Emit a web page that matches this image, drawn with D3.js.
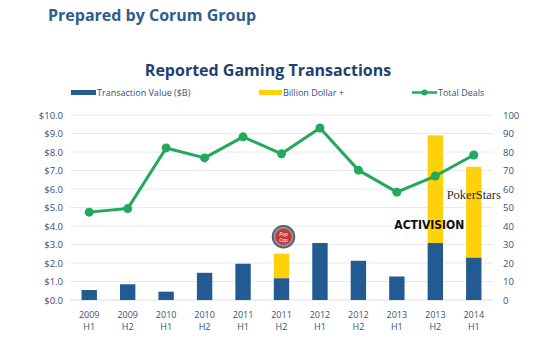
<!DOCTYPE html>
<html>
<head>
<meta charset="utf-8">
<script src="https://cdn.jsdelivr.net/npm/d3@7"></script>
<style>
  body { margin: 0; background: #fff; }
  text { font-family: "Open Sans", "Noto Sans", sans-serif; }
</style>
</head>
<body>
<div id="drawing"></div>
<script>
var width = 558;
var height = 354;
var margin = {top: 115, right: 65, bottom: 54, left: 70};

var periods = ["2009 H1", "2009 H2", "2010 H1", "2010 H2", "2011 H1", "2011 H2",
               "2012 H1", "2012 H2", "2013 H1", "2013 H2", "2014 H1"];
var txValue = [0.54, 0.85, 0.45, 1.47, 1.96, 1.18, 3.08, 2.12, 1.27, 3.08, 2.3];
var billionPlus = [0, 0, 0, 0, 0, 1.32, 0, 0, 0, 5.82, 4.9];
var totalDeals = [47.5, 49.4, 82.2, 76.8, 88.2, 79, 93, 70.2, 58.3, 67, 78.4];
var leftTicks = [0, 1, 2, 3, 4, 5, 6, 7, 8, 9, 10];
var rightTicks = [0, 10, 20, 30, 40, 50, 60, 70, 80, 90, 100];

var blue = "#235a92";
var yellow = "#ffd10a";
var green = "#22a95b";
var labelColor = "#34507c";

var svg = d3.select("#drawing").append("svg")
  .attr("width", width)
  .attr("height", height);

svg.append("text")
  .attr("x", 48).attr("y", 21)
  .style("font-size", "16px").style("font-weight", "bold")
  .style("fill", "#2e5c8e")
  .text("Prepared by Corum Group");

svg.append("text")
  .attr("x", 268).attr("y", 76)
  .attr("text-anchor", "middle")
  .style("font-size", "16px").style("font-weight", "bold")
  .style("fill", "#1f3f6e")
  .text("Reported Gaming Transactions");

var innerW = width - margin.left - margin.right;
var innerH = height - margin.top - margin.bottom;

var g = svg.append("g")
  .attr("transform", `translate(${margin.left}, ${margin.top})`);

var x = d3.scaleBand().domain(periods).range([0, innerW]).paddingInner(0.6).paddingOuter(0.3);
var yL = d3.scaleLinear().domain([0, 10]).range([innerH, 0]);
var yR = d3.scaleLinear().domain([0, 100]).range([innerH, 0]);

// gridlines
g.selectAll(".grid").data(leftTicks).enter().append("line")
  .attr("x1", 0).attr("x2", innerW)
  .attr("y1", d => yL(d)).attr("y2", d => yL(d))
  .style("stroke", d => d === 0 ? "#d6dde6" : "#e6ebf1")
  .style("stroke-width", 1);

// left axis
var leftAxis = g.append("g")
  .call(d3.axisLeft(yL).tickValues(leftTicks).tickSize(0).tickPadding(7)
    .tickFormat(d => "$" + d3.format(".1f")(d)));
leftAxis.select(".domain").remove();
leftAxis.selectAll("text").style("font-size", "9.5px").style("fill", labelColor);

// right axis
var rightAxis = g.append("g")
  .attr("transform", `translate(${innerW}, 0)`)
  .call(d3.axisRight(yR).tickValues(rightTicks).tickSize(0).tickPadding(10));
rightAxis.select(".domain").remove();
rightAxis.selectAll("text").style("font-size", "9.5px").style("fill", labelColor);

// bottom axis, two-line labels
var bottomAxis = g.append("g")
  .attr("transform", `translate(0, ${innerH})`)
  .call(d3.axisBottom(x).tickSize(0).tickPadding(9).tickFormat(""));
bottomAxis.select(".domain").remove();
bottomAxis.selectAll(".tick").each(function(d) {
  var parts = d.split(" ");
  var t = d3.select(this).select("text")
    .style("font-size", "9px").style("fill", labelColor);
  t.append("tspan").attr("x", 0).attr("dy", "0.95em").text(parts[0]);
  t.append("tspan").attr("x", 0).attr("dy", "1.4em").text(parts[1]);
});

// bars
g.selectAll(".bar").data(periods).enter().append("rect")
  .attr("x", d => x(d))
  .attr("width", x.bandwidth())
  .attr("y", (d, i) => yL(txValue[i]))
  .attr("height", (d, i) => innerH - yL(txValue[i]))
  .style("fill", blue);

g.selectAll(".bar2").data(periods.filter((d, i) => billionPlus[i] > 0)).enter().append("rect")
  .attr("x", d => x(d))
  .attr("width", x.bandwidth())
  .attr("y", d => { var i = periods.indexOf(d); return yL(txValue[i] + billionPlus[i]); })
  .attr("height", d => { var i = periods.indexOf(d); return yL(txValue[i]) - yL(txValue[i] + billionPlus[i]); })
  .style("fill", yellow);

// line
var line = d3.line()
  .x((d, i) => x(periods[i]) + x.bandwidth() / 2)
  .y(d => yR(d));

g.append("path")
  .attr("d", line(totalDeals))
  .style("fill", "none")
  .style("stroke", green)
  .style("stroke-width", 3)
  .style("stroke-linejoin", "round");

g.selectAll(".dot").data(totalDeals).enter().append("circle")
  .attr("cx", (d, i) => x(periods[i]) + x.bandwidth() / 2)
  .attr("cy", d => yR(d))
  .attr("r", 4.5)
  .style("fill", green);

// logos as text / shapes
var pop = g.append("g")
  .attr("transform", `translate(${x("2011 H2") + x.bandwidth() / 2 + 2}, ${yL(2.5) - 17})`);
pop.append("circle").attr("r", 11).style("fill", "#8a8f96").style("stroke", "#55595f").style("stroke-width", 1.5);
pop.append("circle").attr("r", 8).style("fill", "#c8353a");
pop.append("text").attr("text-anchor", "middle").attr("y", -1)
  .style("font-size", "5px").style("font-style", "italic").style("fill", "#fff").text("Pop");
pop.append("text").attr("text-anchor", "middle").attr("y", 5)
  .style("font-size", "5px").style("font-style", "italic").style("fill", "#fff").text("Cap");

g.append("text")
  .attr("x", x("2013 H2") + x.bandwidth() / 2 - 6)
  .attr("y", yL(3.85))
  .attr("text-anchor", "middle")
  .style("font-family", "'Liberation Sans Narrow', 'DejaVu Sans Condensed', sans-serif")
  .style("font-size", "12px").style("font-weight", "bold")
  .style("fill", "#111")
  .text("ACTIVISION");

g.append("text")
  .attr("x", x("2014 H1") + x.bandwidth() / 2)
  .attr("y", yL(5.45))
  .attr("text-anchor", "middle")
  .style("font-family", "'Liberation Serif', serif")
  .style("font-size", "12.5px")
  .style("fill", "#2a2a2a")
  .text("PokerStars");

// legend
var legend = svg.append("g").attr("transform", "translate(0, 93)");
legend.append("rect").attr("x", 71).attr("y", -3).attr("width", 25).attr("height", 5).style("fill", blue);
legend.append("text").attr("x", 97).attr("y", 3).style("font-size", "9px").style("fill", labelColor)
  .text("Transaction Value ($B)");
legend.append("rect").attr("x", 259).attr("y", -3).attr("width", 23).attr("height", 5).style("fill", yellow);
legend.append("text").attr("x", 283).attr("y", 3).style("font-size", "9px").style("fill", labelColor)
  .text("Billion Dollar +");
legend.append("line").attr("x1", 412).attr("x2", 437).attr("y1", -0.5).attr("y2", -0.5)
  .style("stroke", green).style("stroke-width", 2.5);
legend.append("circle").attr("cx", 424.5).attr("cy", -0.5).attr("r", 3).style("fill", green);
legend.append("text").attr("x", 438).attr("y", 3).style("font-size", "9px").style("fill", labelColor)
  .text("Total Deals");
</script>
</body>
</html>
